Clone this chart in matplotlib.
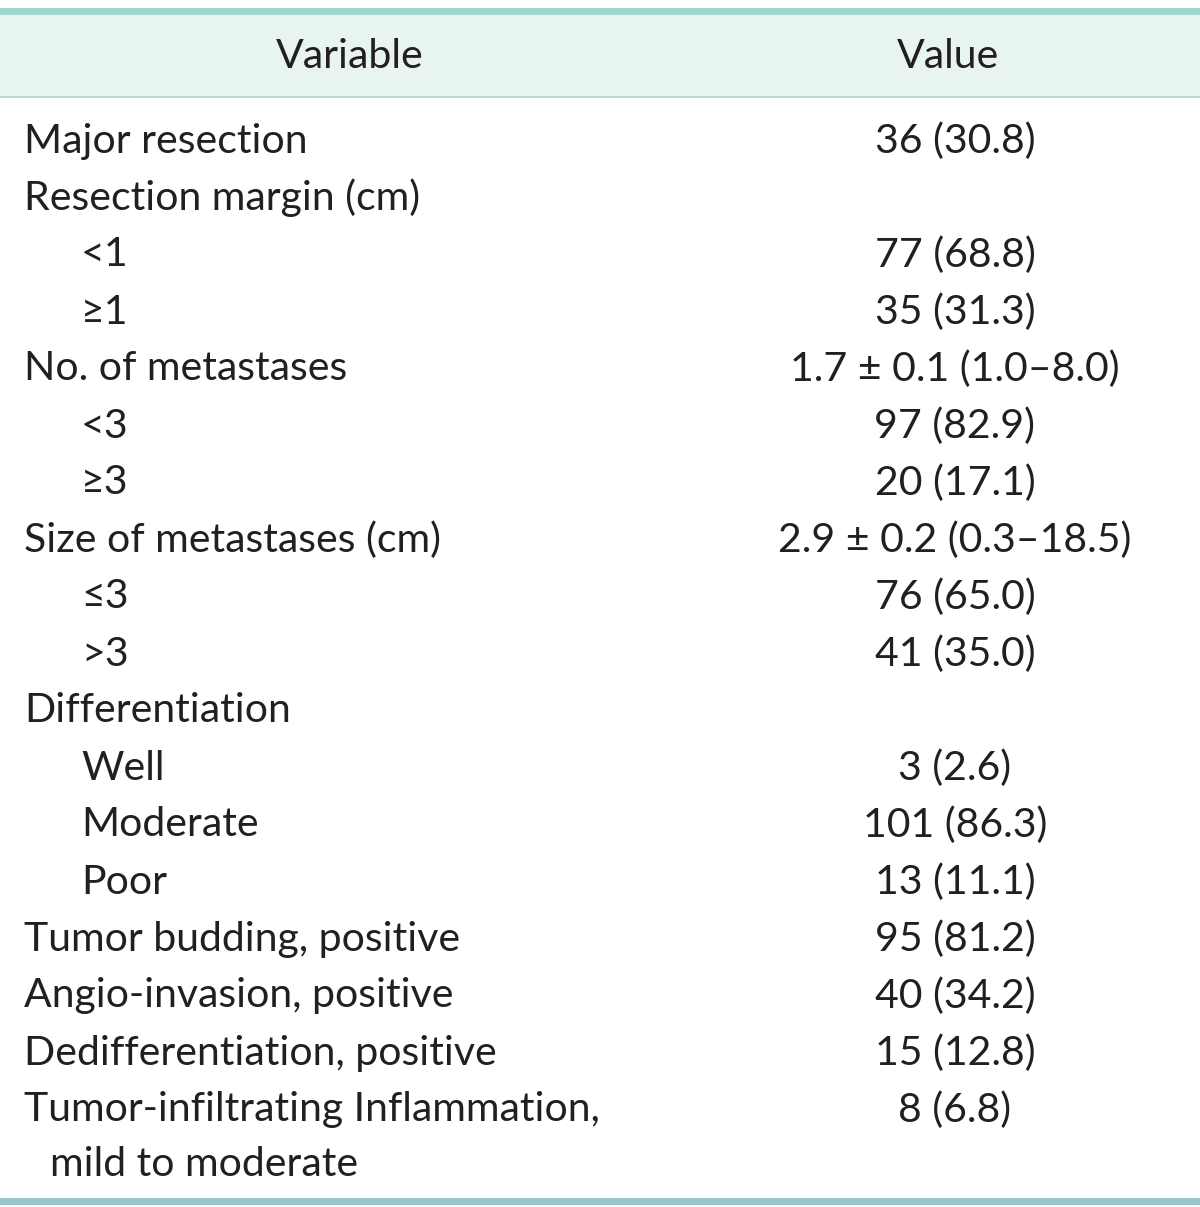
import matplotlib
matplotlib.use("Agg")
import matplotlib.pyplot as plt

header = ["Variable", "Value"]
labels = [
    "Major resection",
    "Resection margin (cm)",
    "<1",
    "≥1",
    "No. of metastases",
    "<3",
    "≥3",
    "Size of metastases (cm)",
    "≤3",
    ">3",
    "Differentiation",
    "Well",
    "Moderate",
    "Poor",
    "Tumor budding, positive",
    "Angio-invasion, positive",
    "Dedifferentiation, positive",
    "Tumor-infiltrating Inflammation,",
]
indent = [0, 0, 1, 1, 0, 1, 1, 0, 1, 1, 0, 1, 1, 1, 0, 0, 0, 0]
values = [
    "36 (30.8)", "", "77 (68.8)", "35 (31.3)", "1.7 ± 0.1 (1.0–8.0)",
    "97 (82.9)", "20 (17.1)", "2.9 ± 0.2 (0.3–18.5)", "76 (65.0)", "41 (35.0)",
    "", "3 (2.6)", "101 (86.3)", "13 (11.1)", "95 (81.2)", "40 (34.2)",
    "15 (12.8)", "8 (6.8)",
]
continuation = "mild to moderate"

W, H = 1200, 1207
fig = plt.figure(figsize=(W / 100, H / 100), dpi=100)
ax = fig.add_axes([0, 0, 1, 1])
ax.set_xlim(0, W)
ax.set_ylim(H, 0)
ax.axis("off")

txt = "#231f20"
fam = ["Lato", "DejaVu Sans"]
fs = 29.5

# header band
ax.fill_between([0, W], 15, 96, color="#e8f4f2", lw=0)
ax.fill_between([0, W], 8, 15, color="#a2d6cc", lw=0)
ax.fill_between([0, W], 95.5, 98, color="#b6ddd6", lw=0)
ax.fill_between([0, W], 1198, 1205, color="#9dc6ca", lw=0)

ax.text(350, 56, header[0], ha="center", va="center", fontsize=fs, color=txt, family=fam)
ax.text(948, 56, header[1], ha="center", va="center", fontsize=fs, color=txt, family=fam)

y0, dy = 141, 57.0
for i, (lab, ind, val) in enumerate(zip(labels, indent, values)):
    y = y0 + i * dy
    x = 81 if ind else 24
    ax.text(x, y, lab, ha="left", va="center", fontsize=fs, color=txt, family=fam)
    if val:
        ax.text(955, y, val, ha="center", va="center", fontsize=fs, color=txt, family=fam)
ax.text(50, y0 + len(labels) * dy - 3, continuation, ha="left", va="center",
        fontsize=fs, color=txt, family=fam)

fig.savefig("out.png", dpi=100)
